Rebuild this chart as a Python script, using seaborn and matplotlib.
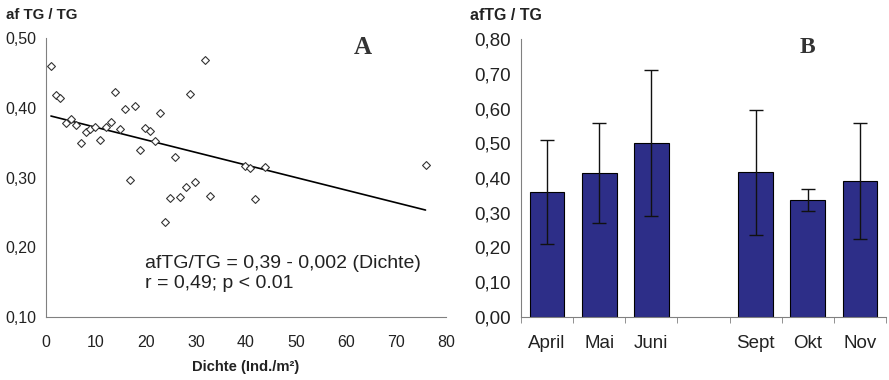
import numpy as np
import pandas as pd
import matplotlib
matplotlib.use("Agg")
import matplotlib.pyplot as plt
import seaborn as sns

# ---- data: panel A ----
dichte = [1.0, 2.0, 2.9, 4.1, 5.1, 6.1, 7.0, 8.0, 8.9, 9.9, 10.9, 12.1, 13.0, 13.9,
          14.9, 15.9, 16.9, 17.8, 18.8, 19.9, 20.9, 21.9, 22.9, 23.9, 24.9, 25.9,
          26.8, 28.0, 28.9, 29.9, 31.9, 32.8, 39.8, 40.8, 41.8, 43.9, 75.9]
ratio = [0.460, 0.418, 0.414, 0.378, 0.384, 0.375, 0.350, 0.365, 0.370, 0.373,
         0.354, 0.373, 0.380, 0.422, 0.369, 0.398, 0.296, 0.402, 0.339, 0.371,
         0.367, 0.353, 0.392, 0.236, 0.271, 0.329, 0.272, 0.287, 0.420, 0.294,
         0.468, 0.273, 0.317, 0.314, 0.269, 0.315, 0.318]
reg_intercept = 0.39
reg_slope = -0.0018

# ---- data: panel B ----
months = ["April", "Mai", "Juni", " ", "Sept", "Okt", "Nov"]
means = [0.360, 0.414, 0.501, np.nan, 0.416, 0.337, 0.392]
sds = [0.150, 0.144, 0.210, np.nan, 0.180, 0.032, 0.167]

sns.set_style("white")
plt.rcParams["font.family"] = ["Liberation Sans", "DejaVu Sans"]

fig = plt.figure(figsize=(8.89, 3.8), dpi=100)
axA = fig.add_axes([0.0517, 0.1658, 0.45, 0.734])
axB = fig.add_axes([0.586, 0.1666, 0.4106, 0.730])

spine_col = "#808080"
txt_col = "#222222"

# ---- panel A ----
dfA = pd.DataFrame({"Dichte": dichte, "ratio": ratio})
sns.scatterplot(data=dfA, x="Dichte", y="ratio", ax=axA, marker="D", s=16,
                facecolor="white", edgecolor="#333333", linewidth=0.8, zorder=3)
xl = np.array([min(dichte), max(dichte)])
dfL = pd.DataFrame({"x": xl, "y": reg_intercept + reg_slope * xl})
sns.lineplot(data=dfL, x="x", y="y", ax=axA, color="black", linewidth=1.2, zorder=2)
axA.set_xlim(0, 80)
axA.set_ylim(0.10, 0.50)
axA.set_xticks(np.arange(0, 81, 10))
axA.set_yticks([0.10, 0.20, 0.30, 0.40, 0.50])
axA.set_yticklabels(["0,10", "0,20", "0,30", "0,40", "0,50"])
axA.set_xlabel("Dichte (Ind./m²)", fontsize=10.6, fontweight="bold", color=txt_col, labelpad=7)
axA.set_ylabel("")
axA.tick_params(axis="x", direction="out", length=4, color=spine_col, labelsize=11.5, labelcolor=txt_col, pad=9)
axA.tick_params(axis="y", direction="out", length=4, color=spine_col, labelsize=11.5, labelcolor=txt_col, pad=3)
for s in ["top", "right"]:
    axA.spines[s].set_visible(False)
for s in ["left", "bottom"]:
    axA.spines[s].set_color(spine_col)
    axA.spines[s].set_linewidth(0.8)
fig.text(0.007, 0.96, "af TG / TG", fontsize=10.8, fontweight="bold", color=txt_col, va="center")
axA.text(63.4, 0.486, "A", fontsize=18, fontweight="bold", family=["Liberation Serif"], color="#333333",
         ha="center", va="center")
axA.text(19.8, 0.162, "afTG/TG = 0,39 - 0,002 (Dichte)\nr = 0,49; p < 0.01", fontsize=14,
         color=txt_col, ha="left", va="center", linespacing=1.25)

# ---- panel B ----
dfB = pd.DataFrame({"month": months, "mean": means, "sd": sds})
sns.barplot(data=dfB, x="month", y="mean", order=months, ax=axB, color="#2d2e88",
            saturation=1, width=0.665, edgecolor="black", linewidth=0.8, errorbar=None)
pos = np.arange(len(months))
axB.errorbar(pos, means, yerr=sds, fmt="none", ecolor="#111111", elinewidth=1.0,
             capsize=5, capthick=1.0, zorder=4)
axB.set_xlim(-0.5, len(months) - 0.5)
axB.set_ylim(0, 0.80)
axB.set_yticks(np.arange(0, 0.81, 0.1))
axB.set_yticklabels([f"{v:.2f}".replace(".", ",") for v in np.arange(0, 0.81, 0.1)])
axB.set_xticks(pos)
axB.set_xticklabels(months)
axB.set_xticks(np.arange(-0.5, len(months), 1.0), minor=True)
axB.tick_params(axis="x", which="major", length=0, labelsize=13.5, labelcolor=txt_col, pad=13)
axB.tick_params(axis="x", which="minor", direction="out", length=4, color=spine_col, bottom=True)
axB.tick_params(axis="y", direction="out", length=4, color=spine_col, labelsize=13.5, labelcolor=txt_col, pad=3)
axB.set_xlabel("")
axB.set_ylabel("")
for s in ["top", "right"]:
    axB.spines[s].set_visible(False)
for s in ["left", "bottom"]:
    axB.spines[s].set_color(spine_col)
    axB.spines[s].set_linewidth(0.8)
fig.text(0.529, 0.96, "afTG / TG", fontsize=11.5, fontweight="bold", color=txt_col, va="center")
axB.text(5.0, 0.775, "B", fontsize=17, fontweight="bold", family=["Liberation Serif"], color="#333333",
         ha="center", va="center")

fig.savefig("out.png", dpi=100)
